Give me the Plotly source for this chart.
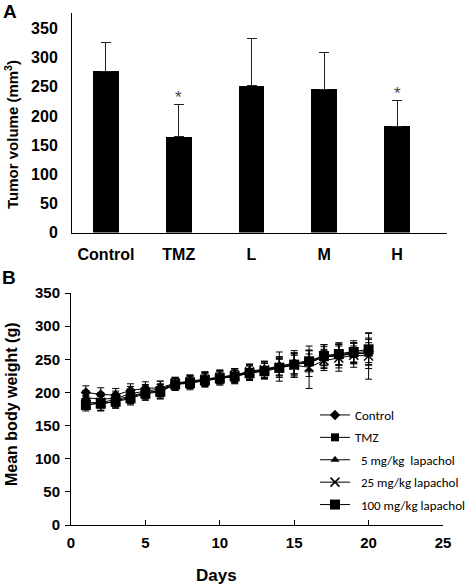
import plotly.graph_objects as go

# ---------- Panel A data ----------
groups = ["Control", "TMZ", "L", "M", "H"]
tumor_volume = [277, 164, 252, 246, 182]
tumor_err = [49, 56, 81, 62, 44]
significant = [False, True, False, False, True]

# ---------- Panel B data ----------
days = list(range(1, 21))
series_names = ["Control", "TMZ", "\u00a0\u00a05 mg/kg\u00a0\u00a0lapachol",
                "\u00a0\u00a025 mg/kg lapachol", "\u00a0\u00a0100 mg/kg lapachol"]
w_control = [200, 197, 196, 203, 206, 207, 214, 217, 221, 224, 226, 232, 235, 240, 244, 248, 255, 257, 260, 262]
w_tmz = [186, 182, 187, 193, 199, 203, 212, 215, 219, 222, 224, 230, 233, 238, 242, 246, 253, 256, 258, 260]
w_5mg = [192, 190, 191, 198, 202, 205, 213, 216, 220, 223, 225, 231, 234, 239, 243, 244, 254, 255, 259, 258]
w_25mg = [184, 185, 189, 194, 200, 202, 214, 216, 220, 223, 226, 231, 234, 238, 241, 238, 248, 252, 256, 255]
w_100mg = [181, 183, 186, 191, 198, 201, 212, 214, 218, 221, 224, 229, 232, 237, 242, 247, 255, 258, 261, 265]
e_control = [10, 10, 10, 10, 10, 10, 8, 9, 10, 10, 10, 10, 12, 14, 16, 15, 14, 16, 15, 20]
e_tmz = [9, 9, 10, 10, 9, 9, 9, 8, 9, 9, 9, 10, 11, 12, 14, 12, 12, 14, 12, 15]
e_5mg = [11, 10, 11, 11, 10, 12, 9, 10, 11, 10, 11, 12, 13, 22, 20, 20, 18, 18, 16, 22]
e_25mg = [10, 12, 10, 11, 10, 11, 9, 10, 10, 10, 10, 11, 12, 15, 18, 32, 15, 20, 18, 35]
e_100mg = [9, 11, 10, 10, 10, 11, 9, 10, 10, 10, 11, 11, 12, 14, 16, 16, 17, 17, 17, 24]

weights = [w_control, w_tmz, w_5mg, w_25mg, w_100mg]
errors = [e_control, e_tmz, e_5mg, e_25mg, e_100mg]
symbols = ["diamond", "square", "triangle-up", "x-thin", "square"]
sizes = [8, 8, 8, 9, 10]

W, H = 472, 587
AX = "Liberation Sans, Arial, sans-serif"

fig = go.Figure()

xs = list(range(len(groups)))
fig.add_trace(go.Bar(
    x=xs, y=tumor_volume, width=0.357,
    marker=dict(color="black", line=dict(width=0)),
    error_y=dict(type="data", array=tumor_err, arrayminus=[0] * len(groups),
                 symmetric=False, color="#222", thickness=1, width=5),
    xaxis="x", yaxis="y", showlegend=False,
))

for i, (name, w, e) in enumerate(zip(series_names, weights, errors)):
    fig.add_trace(go.Scatter(
        x=days, y=w, name=name, mode="lines+markers",
        line=dict(color="black", width=1),
        marker=dict(symbol=symbols[i], size=sizes[i], color="black",
                    line=dict(color="black", width=1.5 if symbols[i] == "x-thin" else 0)),
        error_y=dict(type="data", array=e, color="black", thickness=1, width=3.5),
        xaxis="x2", yaxis="y2", legendgroup=f"g{i}",
    ))

annotations = []
for i, s in enumerate(significant):
    if s:
        annotations.append(dict(x=i, y=tumor_volume[i] + tumor_err[i], xref="x", yref="y",
                                text="*", showarrow=False, yshift=7,
                                xanchor="center", yanchor="middle",
                                font=dict(family=AX, size=17, color="#444")))

def lab(text, x, y, size=15, angle=0):
    return dict(text=text, x=x / W, y=1 - y / H, xref="paper", yref="paper",
                xanchor="center", yanchor="middle", textangle=angle, showarrow=False,
                font=dict(family=AX, size=size, color="black"))

annotations += [
    lab("<b>A</b>", 10, 11, 19),
    lab("<b>B</b>", 9, 278, 19),
    lab("<b>Tumor volume (mm<sup>3</sup>)</b>", 11, 135, 15, -90),
    lab("<b>Mean body weight (g)</b>", 11, 404, 16, -90),
    lab("<b>Days</b>", 216, 575, 17),
]

tickfont = dict(family=AX, size=16, color="black", weight="bold")
tickfont2 = dict(family=AX, size=15, color="black", weight="bold")

fig.update_layout(
    width=W, height=H, margin=dict(l=0, r=0, t=0, b=0, autoexpand=False),
    paper_bgcolor="white", plot_bgcolor="white",
    xaxis=dict(domain=[72 / W, 447 / W], range=[-0.467, 4.687], tickvals=xs, ticktext=groups,
               showline=True, linecolor="black", linewidth=1, ticks="", showgrid=False,
               zeroline=False, tickfont=tickfont, ticklabelstandoff=7, anchor="y",
               automargin=False),
    yaxis=dict(domain=[1 - 232.5 / H, 1 - 13 / H], range=[0, 376.6],
               tickvals=[0, 50, 100, 150, 200, 250, 300, 350],
               showline=True, linecolor="black", linewidth=1, ticks="", showgrid=False,
               zeroline=False, tickfont=tickfont, ticklabelstandoff=10, anchor="x",
               automargin=False),
    xaxis2=dict(domain=[71 / W, 443 / W], range=[0, 25], tickvals=[0, 5, 10, 15, 20, 25],
                showline=True, linecolor="black", linewidth=1, ticks="inside", ticklen=5,
                tickcolor="black", showgrid=False, zeroline=False,
                tickfont=tickfont2, ticklabelstandoff=4, anchor="y2", automargin=False),
    yaxis2=dict(domain=[1 - 525 / H, 1 - 293 / H], range=[0, 350],
                tickvals=[0, 50, 100, 150, 200, 250, 300, 350],
                showline=True, linecolor="black", linewidth=1, ticks="outside", ticklen=5,
                tickcolor="black", showgrid=False, zeroline=False,
                tickfont=tickfont2, ticklabelstandoff=2, anchor="x2", automargin=False),
    legend=dict(x=315 / W, y=1 - 400 / H, xanchor="left", yanchor="top",
                bgcolor="rgba(0,0,0,0)", font=dict(family="Carlito, Lato, sans-serif", size=13, color="black"),
                itemwidth=30, tracegroupgap=2.5),
    annotations=annotations,
    bargap=0,
)

fig.write_html("out.html", config={"displayModeBar": False},
               post_script="document.body.style.margin='0';document.body.style.padding='0';")
